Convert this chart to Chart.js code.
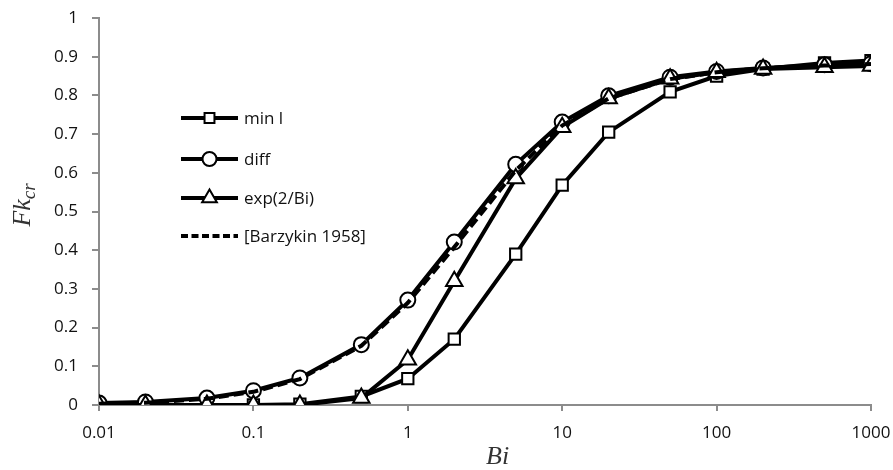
<!DOCTYPE html>
<html>
<head>
<meta charset="utf-8">
<script src="https://cdn.jsdelivr.net/npm/chart.js@4"></script>
<style>
  html, body { margin: 0; padding: 0; background: #fff; }
  #wrap { width: 893px; height: 470px; position: relative; }
</style>
</head>
<body>
<div id="wrap"><canvas id="chart"></canvas></div>
<script>
// Data
const biValues = [0.01, 0.02, 0.05, 0.1, 0.2, 0.5, 1, 2, 5, 10, 20, 50, 100, 200, 500, 1000];
const minL     = [0, 0, 0, 0, 0.002, 0.022, 0.068, 0.17, 0.39, 0.568, 0.705, 0.809, 0.85, 0.868, 0.884, 0.89];
const diff     = [0.005, 0.008, 0.018, 0.037, 0.07, 0.156, 0.271, 0.421, 0.622, 0.731, 0.799, 0.847, 0.862, 0.871, 0.879, 0.882];
const expBi    = [0, 0, 0, 0, 0, 0.018, 0.117, 0.32, 0.585, 0.718, 0.792, 0.843, 0.86, 0.868, 0.873, 0.876];
const barzykin = [0.003, 0.006, 0.016, 0.034, 0.067, 0.153, 0.264, 0.408, 0.606, 0.722, 0.792, 0.842, 0.86, 0.87, 0.877, 0.881];
const seriesNames = ['min l', 'diff', 'exp(2/Bi)', '[Barzykin 1958]'];
const xTicks = [0.01, 0.1, 1, 10, 100, 1000];

const axisColor = '#8c8c8c';
const tickFont = { family: 'Open Sans', size: 17 };

function pts(ys) {
  return biValues.map((x, i) => ({ x: x, y: ys[i] }));
}

function lineSet(label, ys, style, radius, order) {
  return {
    label: label,
    data: pts(ys),
    borderColor: '#000',
    borderWidth: 4,
    backgroundColor: '#fff',
    pointStyle: style,
    pointRadius: radius,
    pointBorderWidth: 2,
    pointBorderColor: '#000',
    pointBackgroundColor: '#fff',
    tension: 0,
    order: order
  };
}

const datasets = [
  lineSet(seriesNames[0], minL, 'rect', 8, 4),
  lineSet(seriesNames[1], diff, 'circle', 7.5, 3),
  lineSet(seriesNames[2], expBi, 'triangle', 9.5, 2),
  Object.assign(lineSet(seriesNames[3], barzykin, false, 0, 1), { borderDash: [10, 5] })
];

// legend drawn inside the plot, Excel style (line + marker)
const insideLegend = {
  id: 'insideLegend',
  afterDraw(chart) {
    const ctx = chart.ctx;
    const rows = [118, 159, 198, 236];
    ctx.save();
    chart.data.datasets.forEach((ds, i) => {
      const y = rows[i];
      ctx.beginPath();
      ctx.strokeStyle = '#000';
      ctx.lineWidth = 4;
      ctx.setLineDash(ds.borderDash ? [7, 3.5] : []);
      ctx.moveTo(181, y);
      ctx.lineTo(238, y);
      ctx.stroke();
      ctx.setLineDash([]);
      if (ds.pointRadius > 0) {
        ctx.fillStyle = '#fff';
        ctx.strokeStyle = '#000';
        ctx.lineWidth = 2;
        Chart.helpers.drawPoint(ctx, {
          pointStyle: ds.pointStyle,
          radius: ds.pointStyle === 'triangle' ? 8.5 : 7,
          rotation: 0,
          borderWidth: 2
        }, 209.5, y);
      }
      ctx.fillStyle = '#111';
      ctx.font = '17px "Open Sans"';
      ctx.textBaseline = 'middle';
      ctx.textAlign = 'left';
      ctx.fillText(ds.label, 244, y + 1);
    });

    // axis titles
    ctx.fillStyle = '#333';
    ctx.textBaseline = 'alphabetic';
    ctx.textAlign = 'left';
    ctx.font = 'italic 26px "Liberation Serif"';
    ctx.fillText('Bi', 486, 464);

    ctx.translate(30, 205);
    ctx.rotate(-Math.PI / 2);
    ctx.font = 'italic 26px "Liberation Serif"';
    const fw = ctx.measureText('Fk').width;
    ctx.font = 'italic 19px "Liberation Serif"';
    const cw = ctx.measureText('cr').width;
    const start = -(fw + cw) / 2;
    ctx.font = 'italic 26px "Liberation Serif"';
    ctx.fillText('Fk', start, 0);
    ctx.font = 'italic 19px "Liberation Serif"';
    ctx.fillText('cr', start + fw, 5);
    ctx.restore();
  }
};

new Chart(document.getElementById('chart'), {
  type: 'line',
  data: { datasets: datasets },
  plugins: [insideLegend],
  options: {
    responsive: true,
    maintainAspectRatio: false,
    animation: false,
    layout: { padding: { top: 18, right: 22, left: 0, bottom: 0 } },
    plugins: {
      legend: { display: false },
      tooltip: { enabled: false }
    },
    scales: {
      x: {
        type: 'logarithmic',
        min: 0.01,
        max: 1000,
        afterBuildTicks: (scale) => { scale.ticks = xTicks.map(v => ({ value: v })); },
        afterFit: (scale) => {
          scale.height = 65;
          scale.paddingLeft = 0;
          scale.paddingRight = 0;
        },
        ticks: {
          autoSkip: false,
          maxRotation: 0,
          padding: 12,
          color: '#111',
          font: tickFont,
          callback: (v) => String(v)
        },
        grid: { drawOnChartArea: false, drawTicks: true, tickLength: 6, color: axisColor, lineWidth: 2 },
        border: { color: axisColor, width: 2 }
      },
      y: {
        min: 0,
        max: 1,
        afterFit: (scale) => {
          scale.width = 99;
          scale.paddingTop = 0;
          scale.paddingBottom = 0;
        },
        ticks: {
          stepSize: 0.1,
          padding: 14,
          color: '#111',
          font: tickFont,
          callback: (v) => String(Math.round(v * 10) / 10)
        },
        grid: { drawOnChartArea: false, drawTicks: true, tickLength: 7, color: axisColor, lineWidth: 2 },
        border: { color: axisColor, width: 2 }
      }
    }
  }
});
</script>
</body>
</html>
